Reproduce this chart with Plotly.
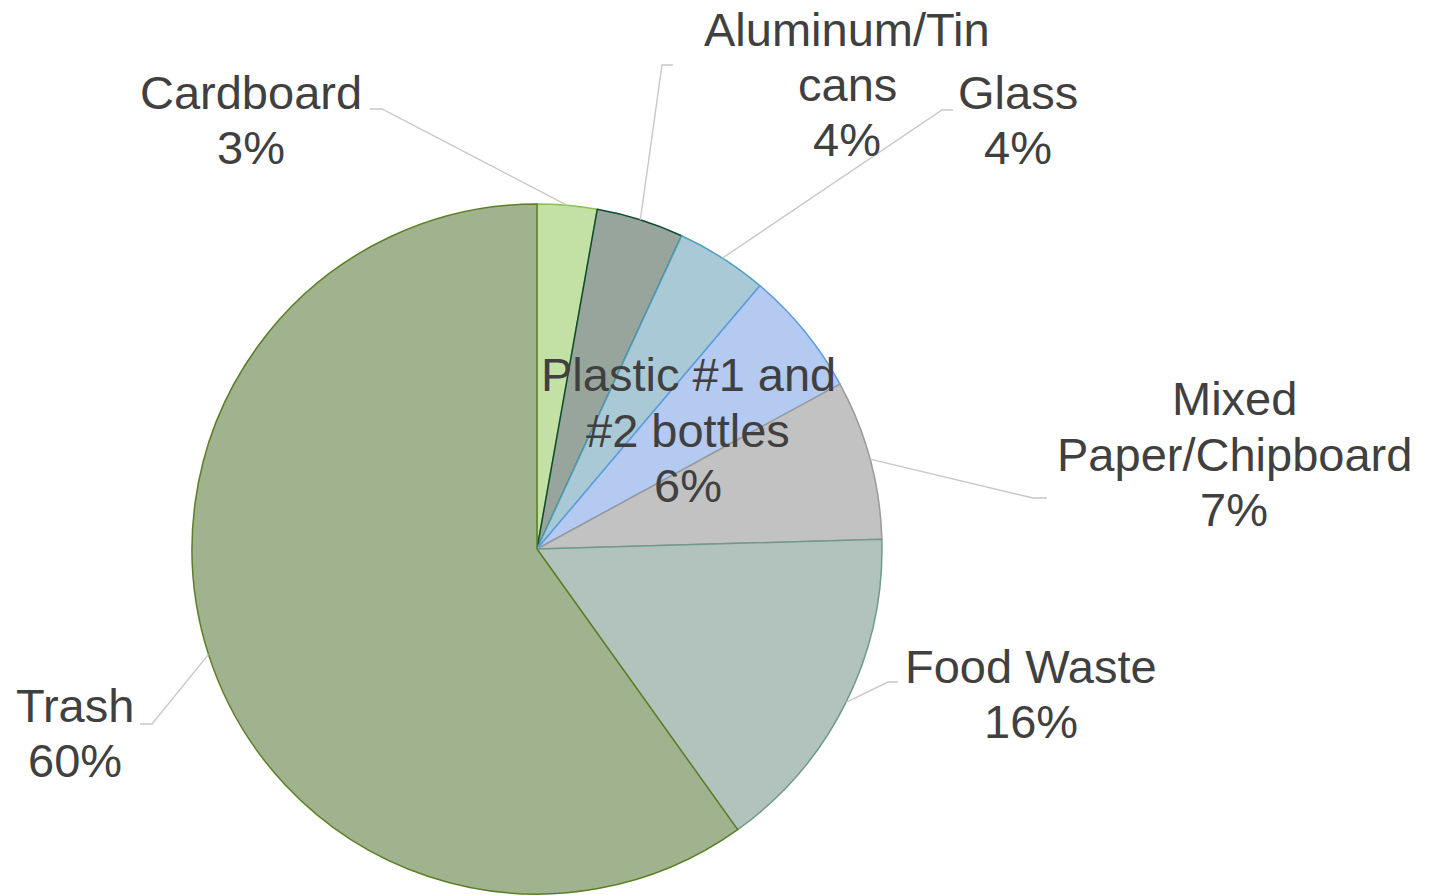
import math
import plotly.graph_objects as go

# ---------------- data ----------------
categories = ["Cardboard", "Aluminum/Tin cans", "Glass", "Plastic #1 and #2 bottles",
              "Mixed Paper/Chipboard", "Food Waste", "Trash"]
values = [2.8, 4.1, 4.3, 5.9, 7.5, 15.6, 60.0]
label_lines = [["Cardboard"], ["Aluminum/Tin", "cans"], ["Glass"], ["Plastic #1 and", "#2 bottles"],
               ["Mixed", "Paper/Chipboard"], ["Food Waste"], ["Trash"]]

# ---------------- style ----------------
fill_colors = ["#c3e0a5", "#98a59d", "#a9c9d6", "#b4caf0", "#c2c2c2", "#b1c3bc", "#a1b28f"]
line_colors = ["#8cc152", "#0d4a2e", "#4f9fc0", "#5e9ce0", "#9a9a9a", "#6f9a8c", "#5a7f24"]

W, H = 1433, 895
CX, CY, R = 537, 549, 345
FONT = "Liberation Sans, Arial, sans-serif"
FS = 47
LINE_GAP = 55

# label layout: (text center x, first baseline y, leader points from label side)
label_pos = [
    (251, 110, [(370, 109), (382, 109)]),
    (847, 47, [(673, 65), (662, 65)]),
    (1018, 110, [(953, 110), (942, 110)]),
    (688, 393, None),
    (1234, 417, [(1047, 498), (1033, 498)]),
    (1031, 684, [(898, 682), (888, 682)]),
    (75, 723, [(140, 724), (152, 724)]),
]


def px(x):
    return x / W


def py(y):
    return 1 - y / H


fig = go.Figure(go.Pie(
    labels=categories,
    values=values,
    sort=False,
    direction="clockwise",
    rotation=0,
    textinfo="none",
    hoverinfo="label+percent",
    marker=dict(colors=fill_colors, line=dict(color=line_colors, width=1.5)),
    domain=dict(x=[px(CX - R), px(CX + R)], y=[py(CY + R), py(CY - R)]),
    showlegend=False,
))

total = sum(values)
annotations = []
shapes = []
cum = 0.0
for cat, v, lines, (lx, ly, leader) in zip(categories, values, label_lines, label_pos):
    frac_mid = (cum + v / 2) / total
    cum += v
    pct = f"{round(v / total * 100)}%"
    all_lines = lines + [pct]
    for i, t in enumerate(all_lines):
        base = ly + i * LINE_GAP
        annotations.append(dict(
            text=t, x=px(lx), y=py(base - 18), xref="paper", yref="paper",
            xanchor="center", yanchor="middle", showarrow=False,
            font=dict(family=FONT, size=FS, color="#404040"),
        ))
    if leader:
        th = 2 * math.pi * frac_mid
        ex = CX + R * math.sin(th)
        ey = CY - R * math.cos(th)
        pts = leader + [(ex, ey)]
        path = "M " + " L ".join(f"{px(a)},{py(b)}" for a, b in pts)
        shapes.append(dict(type="path", path=path, xref="paper", yref="paper",
                           line=dict(color="#c8c8c8", width=1.4)))

fig.update_layout(
    width=W, height=H,
    margin=dict(l=0, r=0, t=0, b=0),
    paper_bgcolor="white", plot_bgcolor="white",
    annotations=annotations,
    shapes=shapes,
)

fig.write_html("out.html")
